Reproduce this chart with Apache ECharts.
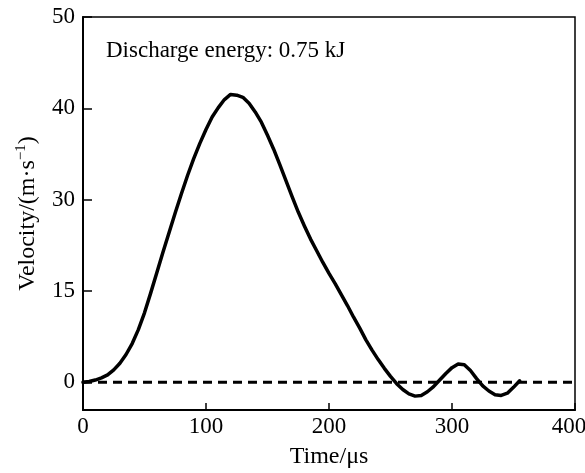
<!DOCTYPE html>
<html>
<head>
<meta charset="utf-8">
<script src="https://cdn.jsdelivr.net/npm/echarts@6/dist/echarts.min.js"></script>
<style>
  html, body { margin: 0; padding: 0; background: #fff; }
  #main { width: 585px; height: 473px; }
</style>
</head>
<body>
<div id="main"></div>
<script>
// time (us), every 5 us
var timeUs = [0, 5, 10, 15, 20, 25, 30, 35, 40, 45, 50, 55, 60, 65, 70, 75, 80, 85, 90, 95,
  100, 105, 110, 115, 120, 125, 130, 135, 140, 145, 150, 155, 160, 165, 170, 175, 180, 185, 190, 195,
  200, 205, 210, 215, 220, 225, 230, 235, 240, 245, 250, 255, 260, 265, 270, 275, 280, 285, 290, 295,
  300, 305, 310, 315, 320, 325, 330, 335, 340, 345, 350, 355]
// velocity in plot units (one tick step = 12.5)
var velocity = [0, 0.1, 0.3, 0.6, 1.0, 1.7, 2.6, 3.8, 5.3, 7.2, 9.5, 12.2, 15.0, 17.8, 20.5, 23.2, 25.8, 28.3, 30.6, 32.7,
  34.6, 36.3, 37.6, 38.7, 39.4, 39.3, 39.0, 38.2, 37.0, 35.6, 33.8, 31.9, 29.8, 27.6, 25.4, 23.3, 21.4, 19.6, 18.0, 16.4,
  14.9, 13.5, 12.0, 10.5, 8.9, 7.4, 5.8, 4.4, 3.1, 1.9, 0.8, -0.2, -1.0, -1.6, -1.9, -1.8, -1.3, -0.6, 0.3, 1.2,
  2.0, 2.5, 2.4, 1.6, 0.5, -0.5, -1.2, -1.7, -1.8, -1.5, -0.7, 0.2]
// baseline (dashed)
var baseTime = [0, 400]
var baseVel = [0, 0]
// ticks
var xTicks = [0, 100, 200, 300, 400]
var yTickPos = [0, 12.5, 25, 37.5, 50]
var yTickLabels = ['0', '15', '30', '40', '50']

var font = 'Liberation Serif'
var chart = echarts.init(document.getElementById('main'))

var curve = timeUs.map(function (t, i) { return [t, velocity[i]] })
var base = baseTime.map(function (t, i) { return [t, baseVel[i]] })

var option = {
  animation: false,
  backgroundColor: '#fff',
  title: {
    text: 'Discharge energy: 0.75 kJ',
    left: 101,
    top: 34,
    textStyle: { fontFamily: font, fontSize: 23, fontWeight: 'normal', color: '#000' }
  },
  grid: {
    left: 83,
    right: 10,
    top: 17,
    bottom: 63,
    outerBoundsMode: 'none',
    show: true,
    borderColor: '#000',
    borderWidth: 1.5
  },
  xAxis: {
    type: 'value',
    min: 0,
    max: 400,
    interval: 100,
    name: 'Time/μs',
    nameLocation: 'middle',
    nameGap: 35,
    nameTextStyle: { fontFamily: font, fontSize: 24, color: '#000' },
    axisLine: { onZero: false, lineStyle: { color: '#000', width: 2 } },
    axisTick: { inside: true, length: 7, lineStyle: { color: '#000', width: 1.5 }, customValues: xTicks },
    axisLabel: {
      fontFamily: font, fontSize: 23, color: '#000', margin: 5, customValues: xTicks,
      formatter: function (v) { return v === 400 ? '{last|400}' : String(v) },
      rich: { last: { fontFamily: font, fontSize: 23, color: '#000', padding: [0, 12, 0, 0] } }
    },
    splitLine: { show: false }
  },
  yAxis: {
    type: 'value',
    min: -3.8,
    max: 50,
    name: 'Velocity/(m·s{sup|−1})',
    nameLocation: 'middle',
    nameRotate: 90,
    nameGap: 42,
    nameTextStyle: {
      fontFamily: font, fontSize: 24, color: '#000',
      rich: { sup: { fontFamily: font, fontSize: 15, color: '#000', verticalAlign: 'top', padding: [0, 0, 12, 0] } }
    },
    axisLine: { onZero: false, lineStyle: { color: '#000', width: 2 } },
    axisTick: { inside: true, length: 9, lineStyle: { color: '#000', width: 1.5 }, customValues: yTickPos },
    axisLabel: {
      fontFamily: font, fontSize: 23, color: '#000', margin: 8,
      customValues: yTickPos,
      formatter: function (v) {
        var i = yTickPos.indexOf(v)
        return i >= 0 ? yTickLabels[i] : ''
      }
    },
    splitLine: { show: false }
  },
  series: [
    {
      type: 'line',
      data: base,
      symbol: 'none',
      lineStyle: { color: '#000', width: 3, type: [9, 6] }
    },
    {
      type: 'line',
      data: curve,
      symbol: 'none',
      lineStyle: { color: '#000', width: 3.5, join: 'round', cap: 'round' }
    }
  ]
}
chart.setOption(option)
</script>
</body>
</html>
